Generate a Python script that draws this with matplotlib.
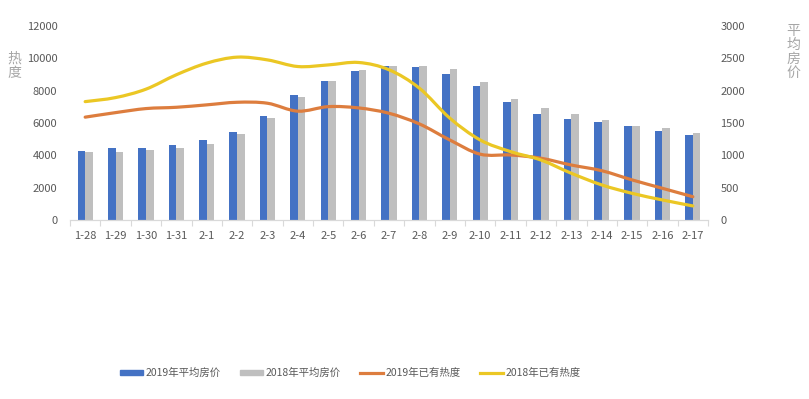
import matplotlib
matplotlib.use('Agg')
import matplotlib.pyplot as plt
import numpy as np
from matplotlib.path import Path
from matplotlib.patches import PathPatch, Patch
from matplotlib.lines import Line2D

plt.rcParams['font.family'] = ['Noto Sans CJK SC', 'DejaVu Sans']

# dates on the x axis
dates = ['1-28', '1-29', '1-30', '1-31', '2-1', '2-2', '2-3', '2-4', '2-5', '2-6', '2-7',
         '2-8', '2-9', '2-10', '2-11', '2-12', '2-13', '2-14', '2-15', '2-16', '2-17']

# average price (right axis)
price_2019 = [1068, 1115, 1115, 1160, 1238, 1362, 1610, 1935, 2150, 2305, 2382,
              2368, 2260, 2072, 1825, 1640, 1562, 1518, 1455, 1378, 1315]
price_2018 = [1052, 1052, 1082, 1115, 1175, 1330, 1578, 1902, 2150, 2322, 2382,
              2382, 2338, 2135, 1872, 1732, 1640, 1548, 1455, 1425, 1348]

# existing heat (left axis)
heat_2019 = [6360, 6640, 6890, 6970, 7120, 7280, 7220, 6730, 7010, 6930, 6600,
             5940, 4950, 4070, 4020, 3820, 3400, 3050, 2480, 1960, 1440]
heat_2018 = [7320, 7570, 8090, 8980, 9700, 10070, 9900, 9490, 9590, 9740, 9290,
             8150, 6300, 4950, 4230, 3710, 2890, 2170, 1650, 1240, 870]

c_blue = '#4472C4'
c_grey = '#BFBFBF'
c_orange = '#DD7D3E'
c_yellow = '#EBC724'
c_text = '#595959'


def smooth_path(xs, ys):
    # Excel style smoothed line: cubic bezier through every point
    pts = np.column_stack([xs, ys]).astype(float)
    verts = [pts[0]]
    codes = [Path.MOVETO]
    n = len(pts)
    for i in range(n - 1):
        p0 = pts[i - 1] if i > 0 else pts[i]
        p1 = pts[i]
        p2 = pts[i + 1]
        p3 = pts[i + 2] if i + 2 < n else pts[i + 1]
        verts += [p1 + (p2 - p0) / 6, p2 - (p3 - p1) / 6, p2]
        codes += [Path.CURVE4] * 3
    return Path(verts, codes)


fig = plt.figure(figsize=(8.09, 3.99), dpi=100)
ax = fig.add_axes([0.0865, 0.4486, 0.7887, 0.4864])
ax2 = ax.twinx()

x = np.arange(len(dates))
w = 0.25
ax2.bar(x - w / 2, price_2019, w, color=c_blue)
ax2.bar(x + w / 2, price_2018, w, color=c_grey)
ax2.set_ylim(0, 3000)
ax2.set_yticks(np.arange(0, 3001, 500))

for vals, col in [(heat_2019, c_orange), (heat_2018, c_yellow)]:
    ax.add_patch(PathPatch(smooth_path(x, vals), facecolor='none', edgecolor=col,
                           lw=2.3, capstyle='round'))
ax.set_ylim(0, 12000)
ax.set_yticks(np.arange(0, 12001, 2000))
ax.set_xlim(-0.5, len(dates) - 0.5)
ax.set_zorder(ax2.get_zorder() + 1)
ax.patch.set_visible(False)

ax.set_xticks(x)
ax.set_xticklabels(dates)
ax.set_xticks(np.arange(-0.5, len(dates)), minor=True)
ax.tick_params(axis='x', which='major', length=0, pad=8, labelsize=8, labelcolor=c_text)
ax.tick_params(axis='x', which='minor', length=4, color='#D9D9D9', width=0.8)
ax.tick_params(axis='y', length=0, pad=9, labelsize=8, labelcolor=c_text)
ax2.tick_params(axis='y', length=0, pad=9, labelsize=8, labelcolor=c_text)

for a in (ax, ax2):
    for s in ['top', 'left', 'right']:
        a.spines[s].set_visible(False)
    a.spines['bottom'].set_color('#D9D9D9')

fig.text(0.018, 0.835, '热\n度', color='#A6A6A6', fontsize=10, ha='center', va='center',
         linespacing=1.0)
fig.text(0.981, 0.87, '平\n均\n房\n价', color='#A6A6A6', fontsize=10, ha='center',
         va='center', linespacing=1.0)

handles = [Patch(color=c_blue), Patch(color=c_grey),
           Line2D([], [], color=c_orange, lw=2.3),
           Line2D([], [], color=c_yellow, lw=2.3)]
labels = ['2019年平均房价', '2018年平均房价', '2019年已有热度', '2018年已有热度']
fig.legend(handles, labels, loc='center', bbox_to_anchor=(0.433, 0.065), ncol=4,
           frameon=False, fontsize=7.5, labelcolor=c_text, handlelength=2.2,
           handleheight=0.45, handletextpad=0.2, columnspacing=1.9)

fig.savefig('out.png', dpi=100)
